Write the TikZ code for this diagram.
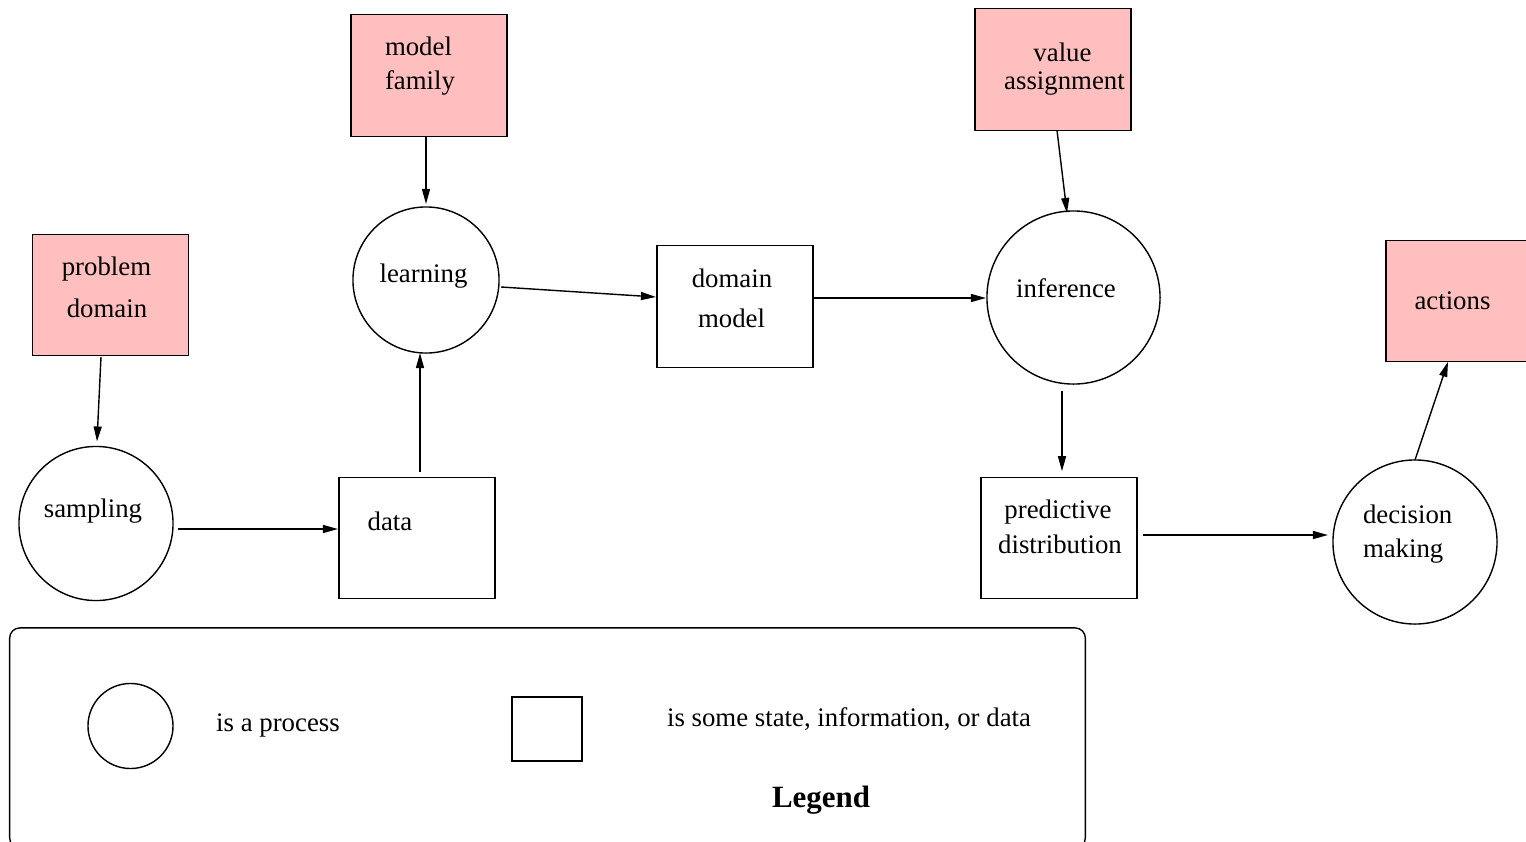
\documentclass[tikz,border=0pt]{standalone}
\usepackage{fontspec}
\setmainfont{Liberation Serif}
\usetikzlibrary{arrows.meta,calc}
\definecolor{inputpink}{HTML}{FFBFBF}
\begin{document}
\begin{tikzpicture}[x=0.01cm,y=-0.01cm,
  line width=0.4pt,
  every node/.style={inner sep=0pt,outer sep=0pt},
  lbl/.style={font=\fontsize{7.62}{9}\selectfont,anchor=base},
  lblw/.style={font=\fontsize{7.62}{9}\selectfont,anchor=base west},
  statebox/.style={draw,rectangle,minimum width=1.56cm,minimum height=1.215cm},
  inbox/.style={statebox,fill=inputpink},
  proc/.style={draw,circle},
  arr/.style={-{Triangle[length=0.15cm,width=0.08cm]}}]
\useasboundingbox (0,0) rectangle (1526,842);
\clip (0,0) rectangle (1526,842);

% external inputs and outputs
\node[inbox] (pd)  at (110.5,295)  {};
\node[inbox] (mf)  at (429,75.5)   {};
\node[inbox] (va)  at (1053,69.5)  {};
\node[inbox] (act) at (1464,301)   {};

% states
\node[statebox] (data)  at (417,538)    {};
\node[statebox] (dm)    at (735,306.5)  {};
\node[statebox] (pdist) at (1059,538)   {};

% processes
\node[proc,minimum size=1.54cm] (samp)  at (96,523.5)    {};
\node[proc,minimum size=1.46cm] (learn) at (426,280)     {};
\node[proc,minimum size=1.73cm] (inf)   at (1073.5,297.5){};
\node[proc,minimum size=1.64cm] (dec)   at (1415,542)    {};

% labels
\node[lbl] (pd1) at (106.5,275) {problem};
\node[lbl] (pd2) at (107,317)   {domain};
\node[lblw] (mf1) at (385,55)   {model};
\node[lblw] (mf2) at (385,89)   {family};
\node[lbl] (va1) at (1062.5,61) {value};
\node[lbl] (va2) at (1064.5,89) {assignment};
\node[lbl] (act1) at (1452.5,309) {actions};
\node[lbl] (data1) at (390,530) {data};
\node[lbl] (dm1) at (732,287)   {domain};
\node[lbl] (dm2) at (731.5,327) {model};
\node[lbl] (pdist1) at (1058,518) {predictive};
\node[lbl] (pdist2) at (1060,553) {distribution};
\node[lbl] (samp1) at (93,517)  {sampling};
\node[lbl] (learn1) at (423.5,282) {learning};
\node[lbl] (inf1) at (1066,297) {inference};
\node[lblw] (dec1) at (1363,523) {decision};
\node[lblw] (dec2) at (1363,557) {making};

% flow
\draw[arr] ($(pd.south)+(-9.5,1)$) -- ($(samp.north)+(1,-5)$);
\draw[arr] ($(samp.east)+(5,5.5)$) -- ($(data.west)+(-1,-9)$);
\draw[arr] ($(data.north)+(3,-5)$) -- ($(learn.south)+(-6,0)$);
\draw[arr] ($(mf.south)+(-3,0)$) -- ($(learn.north)+(0,-3)$);
\draw[arr] ($(learn.east)+(2,7)$) -- ($(dm.west)+(-1,-9.5)$);
\draw[arr] ($(dm.east)+(0,-8.5)$) -- ($(inf.west)+(-1,0.5)$);
\draw[arr] ($(va.south)+(4,0)$) -- ($(inf.north)+(-6.5,2)$);
\draw[arr] ($(inf.south)+(-11.5,7)$) -- ($(pdist.north)+(3,-6)$);
\draw[arr] ($(pdist.east)+(6,-3)$) -- ($(dec.west)+(-5,-7)$);
\draw[arr] (dec.north) -- ($(act.south)+(-16,0)$);

% legend
\node[draw,rectangle,rounded corners=0.1cm,minimum width=10.75cm,minimum height=2.2cm] (legframe) at (547.5,738) {};
\node[proc,minimum size=0.85cm] (legproc) at (130.5,726) {};
\node[draw,rectangle,minimum width=0.7cm,minimum height=0.64cm] (legstate) at (547,729) {};
\node[lbl] (legproc1) at (278,731) {is a process};
\node[lbl] (legstate1) at (849,726) {is some state, information, or data};
\node[font=\fontsize{8.8}{10}\selectfont\bfseries,anchor=base] (legtitle) at (821,807) {Legend};
\end{tikzpicture}
\end{document}
